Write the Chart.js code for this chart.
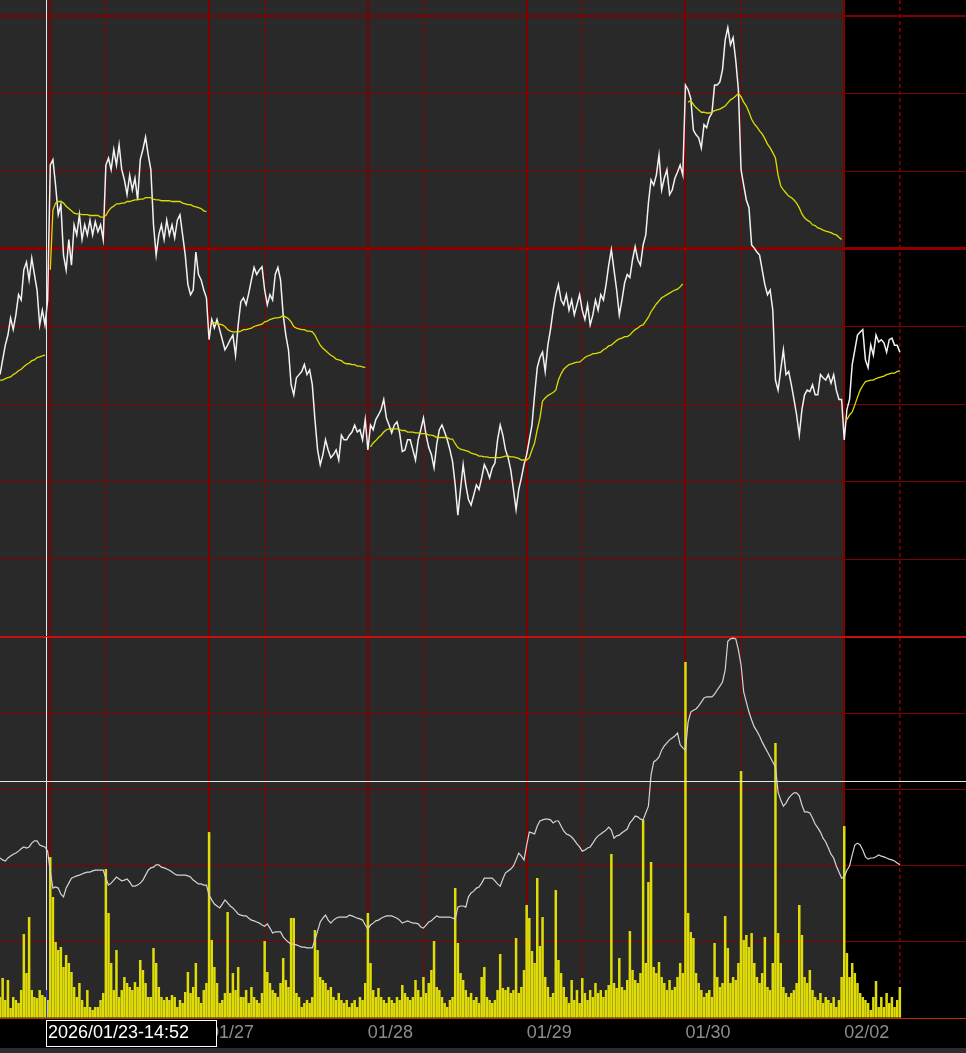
<!DOCTYPE html>
<html><head><meta charset="utf-8">
<script src="https://cdn.jsdelivr.net/npm/chart.js@4.4.1/dist/chart.umd.min.js"></script>
<style>
html,body{margin:0;padding:0;background:#2b2d31;width:966px;height:1053px;overflow:hidden;}
#top{position:absolute;left:0;top:0;}
#bot{position:absolute;left:0;top:630px;}
</style></head><body>
<canvas id="top" width="966" height="637"></canvas>
<canvas id="bot" width="966" height="418"></canvas>
<script>
// ---- time axis: one step = 20 minutes, 60 steps per trading day ----
const dayStarts = [19, 79, 139, 199, 259, 319];
const dayLabels = ['01/26', '01/27', '01/28', '01/29', '01/30', '02/02'];
const midnights = [40, 100, 160, 220, 280, 340];
const xMax = 365;

// ---- price panel ----
const priceGrid = [52500, 52600, 52700, 52800, 52900, 53000, 53100, 53200, 53300];
const priceMin = 52500, priceMax = 53320.6;
const price = [
52838,52857,52876,52889,52911,52896,52915,52941,52934,52973,52983,52960,52988,52967,52947,52902,52921,52902,52934,
53108,53115,53082,53044,53057,52992,52973,53012,52979,53031,
53018,53044,53012,53031,53018,53037,53018,53035,53022,53031,
53012,53108,53117,53102,53128,53108,53134,53102,53089,53070,
53095,53076,53091,53063,53115,53128,53144,53121,53102,53031,
52992,53018,53031,53012,53037,53018,53031,53014,53037,53044,
53018,52992,52954,52941,52947,52996,52967,52960,52947,52937,
52883,52909,52898,52909,52896,52883,52870,52876,52883,52889,
52863,52902,52932,52937,52928,52943,52960,52976,52967,52973,
52977,52947,52928,52941,52934,52967,52976,52960,52915,52889,
52870,52825,52812,52834,52838,52842,52851,52838,52844,52825,
52780,52741,52722,52735,52754,52741,52731,52735,52741,52728,
52760,52754,52754,52760,52764,52773,52764,52767,52754,52780,
52741,52773,52767,52780,52786,52793,52806,52782,52773,52763,
52773,52777,52763,52739,52741,52754,52754,52741,52728,52754,
52767,52782,52760,52744,52735,52718,52748,52767,52773,52764,
52754,52741,52726,52696,52657,52690,52722,52696,52677,52670,
52683,52696,52690,52705,52722,52715,52705,52718,52724,52754,
52773,52760,52741,52731,52715,52690,52664,52690,52705,52722,
52735,52754,52773,52812,52847,52860,52867,52842,52876,52896,
52921,52941,52954,52934,52928,52941,52921,52934,52915,52928,
52941,52921,52909,52928,52902,52915,52934,52921,52941,52934,
52954,52979,52999,52973,52947,52915,52934,52956,52967,52963,
52986,53003,52986,52979,53005,53018,53059,53089,53082,53095,
53121,53076,53091,53102,53070,53076,53091,53099,53108,53095,
53211,53205,53194,53153,53147,53143,53130,53160,53156,53169,
53175,53211,53211,53215,53231,53269,53285,53263,53272,53243,
53205,53102,53082,53063,53053,53005,53001,52996,52992,52973,
52954,52941,52947,52921,52831,52818,52844,52870,52838,52842,
52825,52806,52786,52760,52793,52812,52818,52816,52825,52812,
52812,52838,52834,52831,52838,52827,52838,52818,52806,52806,
52754,52793,52806,52851,52870,52889,52893,52896,52857,52847,52876,52863,52889,52880,52883,52879,52867,52883,52885,52876,52876,52867
];
const vwap = [
52831,52831,52833,52834,52835,52838,52840,52843,52845,52848,52851,52853,52856,52857,52860,52861,52862,52863,
null,
52973,53050,53059,53061,53061,53059,53055,53052,53049,53046,
53045,53045,53044,53044,53044,53043,53043,53043,53043,53041,
53041,53043,53049,53053,53055,53058,53058,53059,53059,53061,
53061,53062,53063,53063,53064,53064,53066,53066,53066,53064,
53063,53063,53062,53062,53062,53062,53061,53061,53061,53061,
53059,53058,53057,53057,53055,53054,53053,53052,53049,53048,
null,
52905,52905,52903,52903,52902,52900,52896,52894,52893,52893,
52893,52894,52896,52896,52897,52898,52900,52901,52902,52903,
52906,52907,52909,52910,52911,52911,52912,52914,52912,52910,
52906,52900,52898,52897,52896,52896,52894,52894,52893,52889,
52882,52876,52872,52869,52866,52863,52861,52858,52857,52856,
52853,52852,52852,52851,52851,52849,52849,52848,52847,
null,
52745,52750,52753,52757,52760,52764,52767,52768,52768,52768,
52768,52767,52766,52766,52764,52764,52764,52763,52763,52762,
52762,52762,52760,52760,52759,52757,52757,52757,52757,52757,
52755,52755,52749,52744,52742,52741,52740,52739,52737,52736,
52735,52733,52733,52732,52732,52731,52731,52731,52731,52731,
52732,52733,52733,52732,52732,52731,52730,52728,52728,
52728,52731,52741,52750,52767,52782,52804,52808,52811,52813,
52815,52818,52831,52839,52845,52848,52851,52852,52853,52854,
52854,52857,52860,52862,52863,52865,52865,52866,52867,52870,
52872,52875,52876,52879,52882,52884,52885,52887,52887,52889,
52893,52896,52898,52901,52902,52907,52912,52919,52924,52929,
52933,52937,52939,52941,52943,52945,52947,52948,52951,52955,
null,
53189,53191,53186,53182,53179,53176,53176,53175,53175,53176,
53178,53179,53180,53182,53184,53188,53192,53194,53197,53200,
53196,53189,53184,53176,53167,53161,53157,53152,53148,53142,
53135,53130,53124,53117,53095,53081,53076,53072,53068,53066,
53063,53059,53053,53045,53040,53037,53035,53031,53030,53027,
53026,53024,53023,53022,53021,53019,53018,53015,53012,
null,
52780,52786,52790,52799,52809,52818,52824,52829,52830,52831,52831,52833,52834,52835,52836,52838,52839,52840,52840,52842,52843
];

// ---- lower panel ----
const volumeGrid = [0, 1000, 2000, 3000, 4000, 5000];
const lowerLine = [
42.0,41.5,41.2,42.0,42.5,43.0,43.3,43.8,44.4,44.9,44.6,44.9,45.9,46.5,46.5,45.4,45.1,44.9,43.8,
38.3,34.1,34.4,34.1,32.5,31.8,34.1,35.4,36.7,37.0,37.3,37.5,37.8,38.1,38.3,38.3,38.6,38.8,38.8,38.8,38.8,
36.7,34.9,35.4,36.2,37.0,36.5,36.0,36.2,36.5,35.7,34.6,34.6,34.9,35.4,36.2,37.5,38.8,39.4,39.6,40.2,
40.2,39.6,39.4,39.1,38.8,38.3,37.8,37.5,37.5,37.5,37.5,37.3,37.0,36.2,35.7,35.2,35.2,34.9,34.9,
32.3,31.0,29.9,29.4,28.9,29.9,31.0,30.2,29.4,28.9,28.1,27.3,27.0,26.8,26.8,26.2,25.7,25.5,25.2,24.9,24.4,
24.1,24.7,23.6,22.3,22.6,22.6,22.6,21.3,20.5,19.9,19.4,19.4,19.2,18.9,18.6,18.6,18.4,18.4,18.4,
20.5,22.8,25.2,26.2,27.0,25.7,24.9,25.7,26.2,26.5,26.5,26.5,26.5,27.0,26.8,26.5,26.2,26.0,25.7,24.4,
23.4,24.4,24.9,25.5,25.7,26.2,26.5,26.8,26.8,26.8,26.5,26.2,25.7,24.9,25.2,25.5,25.2,24.9,24.9,24.7,
23.9,23.6,24.4,25.2,25.5,26.2,26.8,26.5,26.5,26.5,26.5,26.5,26.2,26.0,29.1,29.4,29.4,29.1,31.8,32.8,
33.3,34.1,34.4,35.4,36.7,36.7,36.7,36.7,36.0,35.2,34.6,36.5,38.1,38.6,39.1,39.9,41.5,43.3,42.5,41.5,
45.4,48.8,48.6,48.3,50.4,51.7,52.0,52.2,52.2,52.0,51.2,51.7,51.7,50.4,49.1,48.3,48.0,47.5,46.7,45.7,
44.9,43.8,44.1,44.6,44.9,45.9,47.0,47.8,48.3,48.8,49.3,50.1,49.3,47.2,47.8,48.0,48.6,49.1,49.6,51.2,
52.0,53.0,52.8,52.2,52.0,53.8,55.6,63.8,67.2,67.7,68.5,70.3,71.4,72.2,73.0,73.5,74.0,74.8,71.7,70.9,
70.3,77.7,80.3,80.8,81.1,81.9,82.9,84.0,84.3,84.3,84.3,85.0,86.1,87.1,88.2,91.3,98.9,99.5,99.7,99.5,
96.6,92.7,85.6,82.9,80.3,78.2,76.4,75.3,74.0,72.4,71.1,69.8,68.5,67.2,65.9,59.3,57.2,55.6,56.4,57.7,
58.5,59.1,59.1,58.3,55.9,54.1,54.1,53.8,52.5,50.9,49.9,48.8,47.2,46.2,44.6,43.0,42.0,39.9,38.3,36.7,
37.0,38.8,39.9,42.8,45.4,45.9,45.4,44.1,42.3,41.7,42.0,42.0,42.3,42.8,42.5,42.3,42.0,41.7,41.5,41.2,40.7,40.2
];
const volume = [
276,525,236,499,131,276,236,197,367,1102,590,1325,367,276,262,367,302,276,236,2112,
1588,997,892,932,669,827,722,604,407,276,459,236,144,367,144,105,144,144,236,328,
1955,1378,722,367,892,276,367,538,459,407,367,472,407,761,630,459,276,276,918,722,
407,276,236,276,236,302,276,144,236,197,341,604,328,407,722,276,197,367,459,2440,
1023,669,459,197,236,328,1391,328,590,367,669,276,276,367,197,407,276,236,197,328,
1010,604,459,367,328,276,459,787,499,407,1312,1312,328,276,144,197,236,197,276,1155,
892,538,499,459,367,407,276,236,328,236,197,236,144,197,236,144,276,236,459,1378,
722,367,276,394,276,236,197,276,236,197,276,236,433,328,276,236,276,499,367,276,
538,328,459,630,1010,407,367,276,197,144,236,276,1706,984,590,499,367,276,328,236,
276,197,538,669,276,236,197,236,367,840,394,367,407,328,367,1050,328,407,630,1483,
1312,879,722,1837,945,1325,538,407,276,328,1679,761,590,407,276,197,499,236,367,197,
525,328,236,367,276,459,328,367,276,367,433,2152,459,394,787,407,367,499,1141,630,
499,459,590,2598,722,1784,2047,669,590,735,538,459,367,499,367,407,538,722,590,4671,
1378,1128,1050,590,459,367,276,328,367,276,984,538,407,459,1338,918,459,538,499,722,
3241,1023,1089,932,1115,722,538,459,590,1063,407,367,722,3608,1115,722,407,328,276,328,
367,459,1483,1089,538,459,630,367,276,236,328,197,276,236,197,276,144,236,538,2519,
853,538,722,590,459,328,276,236,197,105,276,485,144,276,144,328,197,276,144,236,407
];

// ---- cursor ----
const cursorStep = 17.5;
const cursorLevel = 62.1;
const cursorVolume = 367;
const cursorText = '2026/01/23-14:52';

const steps = price.map((_, i) => i);

const FONT = '"Liberation Sans", Arial, sans-serif';
const GRID = '#800000';

const bgPlugin = {
  id: 'bg',
  beforeDraw(chart) {
    const {ctx, chartArea: a, scales} = chart;
    const split = scales.x.getPixelForValue(dayStarts[dayStarts.length - 1]);
    ctx.save();
    ctx.fillStyle = '#292929';
    ctx.fillRect(a.left, a.top, split - a.left, a.bottom - a.top);
    ctx.fillStyle = '#000000';
    ctx.fillRect(split, a.top, a.right - split, a.bottom - a.top);
    if (chart.canvas.id === 'bot') {
      ctx.fillRect(0, a.bottom, chart.width, chart.height - a.bottom);
    }
    ctx.restore();
  }
};

const cursorPlugin = {
  id: 'cursor',
  afterDraw(chart) {
    const {ctx, chartArea: a, scales} = chart;
    const cx = Math.round(scales.x.getPixelForValue(cursorStep)) + 0.5;
    ctx.save();
    ctx.lineWidth = 1;
    ctx.strokeStyle = '#e6e6e6';
    ctx.beginPath(); ctx.moveTo(cx, a.top); ctx.lineTo(cx, a.bottom); ctx.stroke();
    if (scales.yL) {
      const cy = Math.round(scales.yL.getPixelForValue(cursorLevel)) + 0.5;
      ctx.beginPath(); ctx.moveTo(a.left, cy); ctx.lineTo(a.right, cy); ctx.stroke();
      const vy = scales.y.getPixelForValue(cursorVolume);
      ctx.strokeStyle = '#3434ff';
      ctx.beginPath(); ctx.moveTo(cx, vy); ctx.lineTo(cx, a.bottom); ctx.stroke();
      ctx.font = '18px ' + FONT;
      const bx = cx - 0.5, by = a.bottom + 2, bw = 171, bh = 27;
      ctx.fillStyle = '#000';
      ctx.fillRect(bx, by, bw, bh);
      ctx.strokeStyle = '#ffffff';
      ctx.strokeRect(bx + 0.5, by + 0.5, bw - 1, bh - 1);
      ctx.fillStyle = '#ffffff';
      ctx.textBaseline = 'middle';
      ctx.textAlign = 'left';
      ctx.fillText(cursorText, bx + 2, a.bottom + 4 + 10.8);
    }
    ctx.restore();
  }
};

function dayAxis(showLabels, height) {
  return {
    type: 'linear', position: 'bottom', min: 0, max: xMax, offset: false,
    afterBuildTicks: s => { s.ticks = dayStarts.map(v => ({value: v})); },
    afterFit: s => { s.height = height; },
    ticks: showLabels ? {
      display: true, align: 'start', color: '#8c8c8c', padding: 4,
      font: {family: FONT, size: 18}, maxRotation: 0, minRotation: 0, autoSkip: false,
      callback: (v, i) => dayLabels[i]
    } : {display: false},
    border: {display: false},
    grid: {color: GRID, lineWidth: 2, drawTicks: false, offset: false}
  };
}
function midnightAxis() {
  return {
    type: 'linear', position: 'bottom', min: 0, max: xMax, offset: false,
    afterBuildTicks: s => { s.ticks = midnights.map(v => ({value: v})); },
    afterFit: s => { s.height = 0; },
    ticks: {display: false},
    border: {display: false, dash: [4, 3]},
    grid: {color: '#8a0000', lineWidth: 1.5, drawTicks: false, offset: false}
  };
}

new Chart(document.getElementById('top'), {
  type: 'line',
  data: {
    labels: steps,
    datasets: [
      {data: vwap, borderColor: '#dcdc00', borderWidth: 1.3, pointRadius: 0, tension: 0, spanGaps: false, order: 0},
      {data: price, borderColor: '#f2f2f2', borderWidth: 1.5, pointRadius: 0, tension: 0, order: 1}
    ]
  },
  options: {
    responsive: false, devicePixelRatio: 1, animation: false, events: [],
    layout: {padding: 0},
    plugins: {legend: {display: false}, tooltip: {enabled: false}},
    scales: {
      x: dayAxis(false, 0),
      x2: midnightAxis(),
      y: {
        type: 'linear', position: 'left', min: priceMin, max: priceMax,
        afterBuildTicks: s => { s.ticks = priceGrid.map(v => ({value: v})); },
        afterFit: s => { s.width = 0; },
        ticks: {display: false},
        border: {display: false},
        grid: {
          drawTicks: false,
          color: c => c.tick.value === priceMin ? 'rgba(0,0,0,0)' : (c.tick.value === 53000 ? '#8c0000' : GRID),
          lineWidth: c => c.tick.value === 53000 ? 3 : (c.tick.value === 53300 ? 2 : 1)
        }
      }
    }
  },
  plugins: [bgPlugin, cursorPlugin]
});

new Chart(document.getElementById('bot'), {
  type: 'bar',
  data: {
    labels: steps,
    datasets: [
      {type: 'line', data: lowerLine, yAxisID: 'yL', borderColor: '#d4d4d4', borderWidth: 1.2, pointRadius: 0, tension: 0, order: 0},
      {type: 'bar', data: volume, yAxisID: 'y', backgroundColor: '#e0dc08', borderWidth: 0, barPercentage: 0.95, categoryPercentage: 1, order: 1}
    ]
  },
  options: {
    responsive: false, devicePixelRatio: 1, animation: false, events: [],
    layout: {padding: {top: 7, left: 0, right: 0, bottom: 0}},
    plugins: {legend: {display: false}, tooltip: {enabled: false}},
    scales: {
      x: dayAxis(true, 30),
      x2: midnightAxis(),
      y: {
        type: 'linear', position: 'left', min: 0, max: 5000,
        afterBuildTicks: s => { s.ticks = volumeGrid.map(v => ({value: v})); },
        afterFit: s => { s.width = 0; },
        ticks: {display: false},
        border: {display: false},
        grid: {
          drawTicks: false,
          color: c => c.tick.value === 5000 ? '#c41212' : (c.tick.value === 0 ? '#b83000' : GRID),
          lineWidth: c => c.tick.value === 5000 ? 2 : 1
        }
      },
      yL: {type: 'linear', display: false, min: 0, max: 100}
    }
  },
  plugins: [bgPlugin, cursorPlugin]
});
</script>
</body></html>
